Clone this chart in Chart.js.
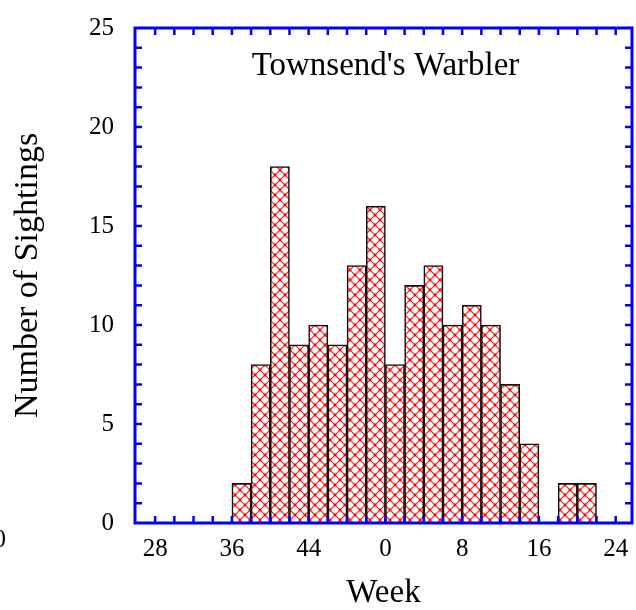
<!DOCTYPE html>
<html lang="en">
<head>
<meta charset="UTF-8">
<title>Townsend's Warbler</title>
<script src="https://cdn.jsdelivr.net/npm/chart.js"></script>
<style>
  html, body { margin: 0; padding: 0; background: #ffffff; }
  #wrap { width: 636px; height: 610px; }
</style>
</head>
<body>
<div id="wrap"><canvas id="chart"></canvas></div>
<script>
// two-week bins, given by their first week (the year wraps at week 52)
const binStart = [36, 38, 40, 42, 44, 46, 48, 50, 0, 2, 4, 6, 8, 10, 12, 14, 16, 18, 20];
const sightings = [2, 8, 18, 9, 10, 9, 13, 16, 8, 12, 13, 10, 11, 10, 7, 4, 0, 2, 2];
const weekTicks = [28, 36, 44, 0, 8, 16, 24];
const countTicks = [0, 5, 10, 15, 20, 25];

const serif = "'Liberation Serif', 'Times New Roman', serif";
const blue = '#0000ff';

// weeks before 26 belong to the following year on this axis
function unwrap(w) { return w < 26 ? w + 52 : w; }

// red cross-hatch fill
function hatch() {
  const c = document.createElement('canvas');
  c.width = 10; c.height = 10;
  const g = c.getContext('2d');
  g.fillStyle = '#ffffff';
  g.fillRect(0, 0, 10, 10);
  g.strokeStyle = '#ff1a1a';
  g.lineWidth = 1.1;
  g.beginPath();
  g.moveTo(0, 0); g.lineTo(10, 10);
  g.moveTo(10, 0); g.lineTo(0, 10);
  g.stroke();
  g.fillStyle = '#ff0000';
  [[5, 5], [0, 0], [10, 0], [0, 10], [10, 10]].forEach(p => {
    g.beginPath(); g.arc(p[0], p[1], 1.4, 0, Math.PI * 2); g.fill();
  });
  return g.createPattern(c, 'repeat');
}

// blue frame with inward ticks, plus the in-plot title
const framePlugin = {
  id: 'frame',
  afterDatasetsDraw(chart) {
    const ctx = chart.ctx;
    const a = chart.chartArea;
    const xs = chart.scales.x, ys = chart.scales.y;
    const len = 7;
    ctx.save();
    ctx.strokeStyle = blue;
    ctx.lineWidth = 2.5;
    ctx.beginPath();
    for (let w = 28; w <= 76; w += 2) {
      const px = xs.getPixelForValue(w);
      ctx.moveTo(px, a.bottom); ctx.lineTo(px, a.bottom - len);
      ctx.moveTo(px, a.top); ctx.lineTo(px, a.top + len);
    }
    for (let v = 1; v < 25; v++) {
      const py = ys.getPixelForValue(v);
      ctx.moveTo(a.left, py); ctx.lineTo(a.left + len, py);
      ctx.moveTo(a.right, py); ctx.lineTo(a.right - len, py);
    }
    ctx.stroke();
    ctx.lineWidth = 3;
    ctx.strokeRect(a.left, a.top, a.right - a.left, a.bottom - a.top);

    ctx.fillStyle = '#000';
    ctx.font = '33px ' + serif;
    ctx.textAlign = 'center';
    ctx.textBaseline = 'alphabetic';
    ctx.fillText("Townsend's Warbler", (a.left + a.right) / 2 + 2, 75);

    ctx.font = '25px ' + serif;
    ctx.textAlign = 'right';
    ctx.textBaseline = 'middle';
    ctx.fillText('0', 6, 540);
    ctx.restore();
  }
};

new Chart(document.getElementById('chart'), {
  type: 'bar',
  data: {
    datasets: [{
      data: binStart.map((w, i) => ({ x: unwrap(w) + 1, y: sightings[i] })),
      backgroundColor: hatch(),
      borderColor: '#111111',
      borderWidth: 1.6,
      barPercentage: 1,
      categoryPercentage: 1
    }]
  },
  options: {
    responsive: true,
    maintainAspectRatio: false,
    animation: false,
    layout: { padding: { top: 25, right: 4, left: 0, bottom: 0 } },
    plugins: { legend: { display: false }, tooltip: { enabled: false } },
    scales: {
      x: {
        type: 'linear',
        offset: false,
        min: 25.9,
        max: 77.7,
        grid: { display: false, offset: false },
        border: { display: false },
        afterBuildTicks: s => { s.ticks = weekTicks.map(w => ({ value: unwrap(w) })); },
        ticks: {
          callback: v => v % 52,
          font: { family: serif, size: 25 },
          color: '#000',
          padding: 3,
          maxRotation: 0,
          autoSkip: false
        },
        title: {
          display: true,
          text: 'Week',
          font: { family: serif, size: 33, lineHeight: 1 },
          color: '#000',
          padding: 0
        },
        afterFit: s => { s.height = 87; }
      },
      y: {
        min: 0,
        max: 25,
        grid: { display: false },
        border: { display: false },
        afterBuildTicks: s => { s.ticks = countTicks.map(v => ({ value: v })); },
        ticks: {
          font: { family: serif, size: 25 },
          color: '#000',
          padding: 13
        },
        title: {
          display: true,
          text: 'Number of Sightings',
          font: { family: serif, size: 34, lineHeight: 1.2 },
          color: '#000',
          padding: { top: 8, bottom: 0 }
        },
        afterFit: s => { s.width = 135; }
      }
    }
  },
  plugins: [framePlugin]
});
</script>
</body>
</html>
